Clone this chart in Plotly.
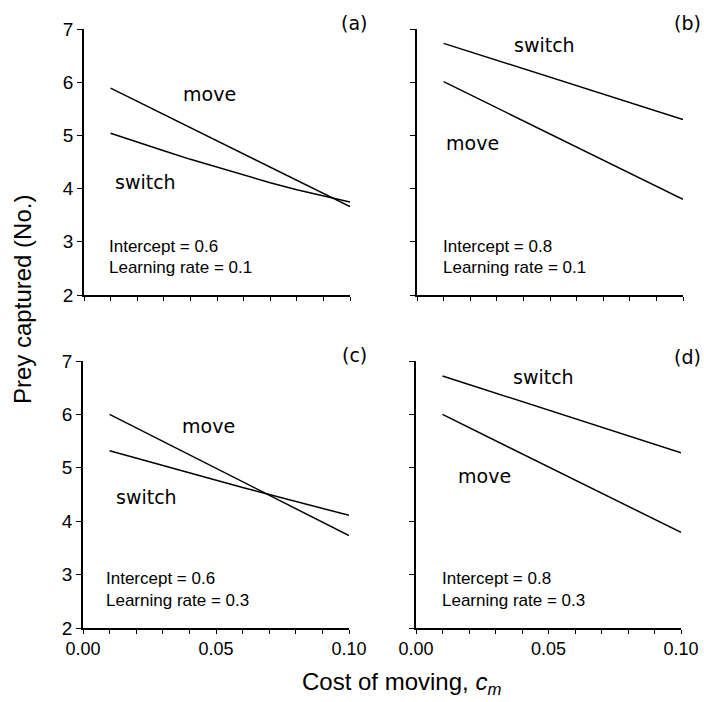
import plotly.graph_objects as go

# ---- data ----
cost = [0.01, 0.02, 0.03, 0.04, 0.05, 0.06, 0.07, 0.08, 0.09, 0.10]
cost_ends = [0.01, 0.10]

move_a = [5.89, 3.66]
switch_a = [5.04, 4.87, 4.71, 4.55, 4.40, 4.25, 4.11, 3.98, 3.86, 3.75]
move_b = [6.01, 3.80]
switch_b = [6.73, 5.30]
move_c = [6.00, 3.73]
switch_c = [5.32, 5.18, 5.04, 4.90, 4.76, 4.63, 4.50, 4.37, 4.24, 4.11]
move_d = [6.00, 3.79]
switch_d = [6.72, 5.28]

panel_labels = ["(a)", "(b)", "(c)", "(d)"]
intercepts = ["Intercept = 0.6", "Intercept = 0.8", "Intercept = 0.6", "Intercept = 0.8"]
learning = ["Learning rate = 0.1", "Learning rate = 0.1", "Learning rate = 0.3", "Learning rate = 0.3"]

x_ticks = [0.00, 0.01, 0.02, 0.03, 0.04, 0.05, 0.06, 0.07, 0.08, 0.09, 0.10]
x_ticktext = ["0.00", "", "", "", "", "0.05", "", "", "", "", "0.10"]
y_ticks = [2, 3, 4, 5, 6, 7]

W, H = 704, 702
def px(x): return x / W
def py(y): return 1 - y / H

fig = go.Figure()

panels = [
    ("x", "y", (84, 350), (29, 295), move_a, switch_a, cost_ends, cost, (0.047, 5.78), (0.023, 4.12), 0.0085),
    ("x2", "y2", (417, 683), (29, 295), move_b, switch_b, cost_ends, cost_ends, (0.021, 4.86), (0.048, 6.70), 0.0089),
    ("x3", "y3", (83, 349), (361, 628), move_c, switch_c, cost_ends, cost, (0.047, 5.78), (0.024, 4.45), 0.0080),
    ("x4", "y4", (416, 681), (361, 628), move_d, switch_d, cost_ends, cost_ends, (0.026, 4.85), (0.048, 6.70), 0.0090),
]

label_font = dict(family="DejaVu Sans", size=19, color="black")
text_font = dict(family="Liberation Sans, Arial", size=17, color="black")

panel_label_pos = [(354, 23), (687, 23), (354, 355), (687, 357)]

for i, (xa, ya, xd, yd, mv, sw, mx, sx, mpos, spos, tx) in enumerate(panels):
    fig.add_trace(go.Scatter(x=mx, y=mv, mode="lines", xaxis=xa, yaxis=ya,
                             line=dict(color="black", width=1.5), showlegend=False, hoverinfo="skip"))
    fig.add_trace(go.Scatter(x=sx, y=sw, mode="lines", xaxis=xa, yaxis=ya,
                             line=dict(color="black", width=1.5), showlegend=False, hoverinfo="skip"))
    xname = "xaxis" if xa == "x" else "xaxis" + xa[1:]
    yname = "yaxis" if ya == "y" else "yaxis" + ya[1:]
    bottom = i >= 2
    left = i % 2 == 0
    fig.update_layout({
        xname: dict(domain=[px(xd[0]), px(xd[1])], range=[0, 0.1], anchor=ya, automargin=False,
                    tickvals=x_ticks, ticktext=x_ticktext, showticklabels=bottom,
                    ticks="outside", ticklen=4, tickwidth=1.2, tickcolor="black",
                    showline=True, linecolor="black", linewidth=1.5, showgrid=False, zeroline=False,
                    tickfont=dict(family="Liberation Sans, Arial", size=18, color="black")),
        yname: dict(domain=[py(yd[1]), py(yd[0])], range=[2, 7], anchor=xa, automargin=False,
                    tickvals=y_ticks, ticktext=[str(v) for v in y_ticks], showticklabels=left,
                    ticks="outside", ticklen=5, tickwidth=1.2, tickcolor="black",
                    showline=True, linecolor="black", linewidth=1.5, showgrid=False, zeroline=False,
                    tickfont=dict(family="Liberation Sans, Arial", size=19, color="black")),
    })
    fig.add_annotation(x=mpos[0], y=mpos[1], xref=xa, yref=ya, text="move", showarrow=False,
                       font=label_font, xanchor="center", yanchor="middle")
    fig.add_annotation(x=spos[0], y=spos[1], xref=xa, yref=ya, text="switch", showarrow=False,
                       font=label_font, xanchor="center", yanchor="middle")
    fig.add_annotation(x=tx, y=2.92, xref=xa, yref=ya, text=intercepts[i], showarrow=False,
                       font=text_font, xanchor="left", yanchor="middle")
    fig.add_annotation(x=tx, y=2.52, xref=xa, yref=ya, text=learning[i], showarrow=False,
                       font=text_font, xanchor="left", yanchor="middle")
    lx, ly = panel_label_pos[i]
    fig.add_annotation(x=px(lx), y=py(ly), xref="paper", yref="paper", text=panel_labels[i],
                       showarrow=False, font=label_font, xanchor="center", yanchor="middle")

fig.add_annotation(x=px(22), y=py(300), xref="paper", yref="paper", text="Prey captured (No.)",
                   textangle=-90, showarrow=False,
                   font=dict(family="Liberation Sans, Arial", size=24, color="black"),
                   xanchor="center", yanchor="middle")
fig.add_annotation(x=px(401), y=py(683), xref="paper", yref="paper",
                   text="Cost of moving, <i>c</i><sub><i>m</i></sub>", showarrow=False,
                   font=dict(family="Liberation Sans, Arial", size=24, color="black"),
                   xanchor="center", yanchor="middle")

fig.update_layout(width=W, height=H, margin=dict(l=0, r=0, t=0, b=0),
                  plot_bgcolor="white", paper_bgcolor="white")

fig.write_html(
    "out.html",
    config={"displayModeBar": False},
    post_script=("document.documentElement.style.overflow='hidden';"
                 "document.body.style.overflow='hidden';"
                 "document.body.style.margin='0';"),
)
